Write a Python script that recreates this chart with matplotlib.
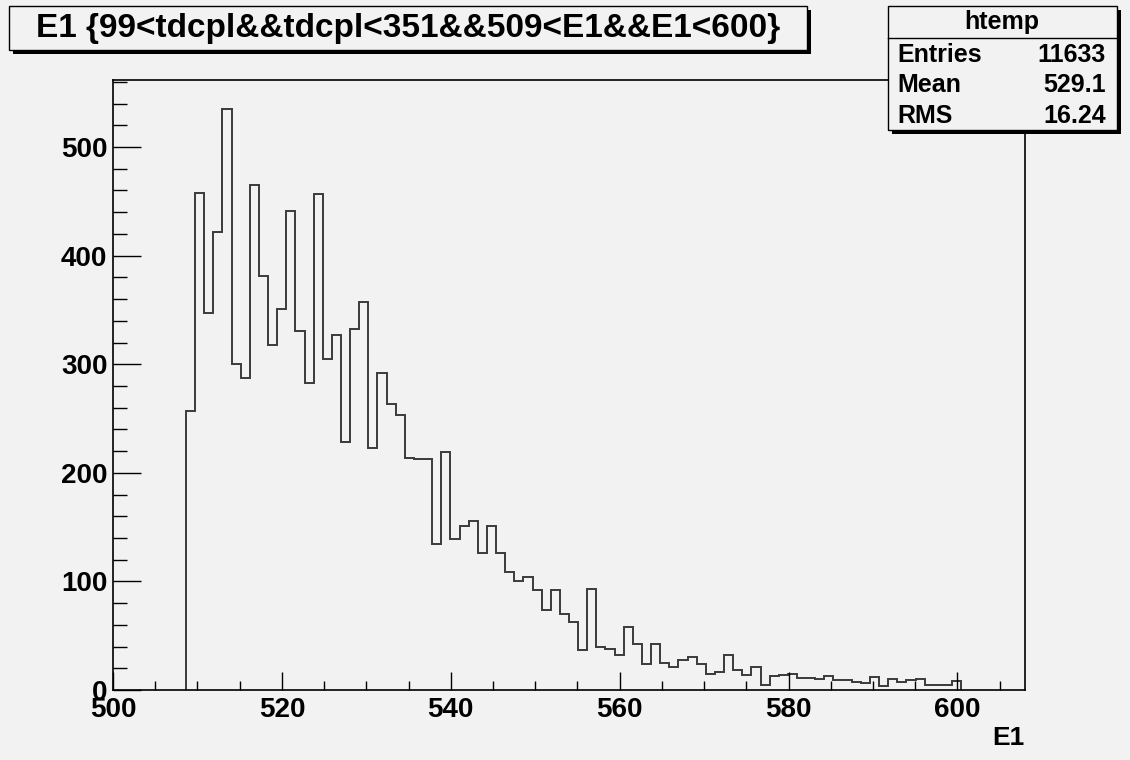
import numpy as np
import matplotlib.pyplot as plt
from matplotlib.patches import Rectangle
from matplotlib.ticker import MultipleLocator

plt.rcParams['font.family'] = ['Liberation Sans', 'DejaVu Sans']
plt.rcParams['font.weight'] = 'bold'

# htemp: 100 bins on [500, 608], only bins 8..92 are filled
xmin, xmax, nbins = 500.0, 608.0, 100
first_bin = 8
counts = [257, 458, 347, 422, 535, 300, 287, 465, 381, 318,
          351, 441, 331, 283, 457, 305, 327, 228, 332, 357,
          223, 292, 263, 253, 214, 213, 213, 134, 219, 139,
          151, 156, 126, 151, 126, 109, 100, 104, 92, 74,
          92, 70, 63, 37, 93, 40, 38, 32, 58, 42,
          24, 42, 25, 21, 28, 30, 24, 15, 17, 32,
          18, 14, 21, 5, 13, 14, 15, 11, 11, 10,
          13, 9, 9, 7, 6, 12, 4, 10, 7, 9,
          10, 5, 5, 5, 8]
title = "E1 {99<tdcpl&&tdcpl<351&&509<E1&&E1<600}"
stat_labels = ["Entries", "Mean", "RMS"]
stat_values = ["11633", "529.1", "16.24"]

W, H = 1130, 760
bg = '#f2f2f2'
fig = plt.figure(figsize=(W / 100, H / 100), dpi=100, facecolor=bg)

def fx(px):
    return px / W

def fy(py):
    return 1 - py / H

ax = fig.add_axes([fx(113), fy(690), fx(1025) - fx(113), fy(80) - fy(690)])
ax.set_facecolor(bg)

edges = np.linspace(xmin, xmax, nbins + 1)
e = edges[first_bin:first_bin + len(counts) + 1]
ax.stairs(counts, e, baseline=0, color='#3a3a3a', lw=1.4)

ax.set_xlim(xmin, xmax)
ax.set_ylim(0, 1.05 * max(counts))

ax.xaxis.set_major_locator(MultipleLocator(20))
ax.xaxis.set_minor_locator(MultipleLocator(5))
ax.yaxis.set_major_locator(MultipleLocator(100))
ax.yaxis.set_minor_locator(MultipleLocator(20))
ax.tick_params(axis='x', which='major', direction='in', length=13, width=1, pad=5, labelsize=20)
ax.tick_params(axis='x', which='minor', direction='in', length=6.5, width=1)
ax.tick_params(axis='y', which='major', direction='in', length=20, width=1, pad=4, labelsize=20)
ax.tick_params(axis='y', which='minor', direction='in', length=10, width=1)
for lab in ax.get_xticklabels() + ax.get_yticklabels():
    lab.set_fontweight('bold')
for s in ax.spines.values():
    s.set_linewidth(1.2)

fig.text(fx(1025), fy(738), "E1", ha='right', va='center', fontsize=19, fontweight='bold')

def box(x0, y0, x1, y1):
    # shadowed pave in pixel coordinates
    fig.patches.append(Rectangle((fx(x0 + 4), fy(y1 + 4)), fx(x1 - x0), fy(y0) - fy(y1),
                                 transform=fig.transFigure, facecolor='black', edgecolor='none', zorder=5))
    fig.patches.append(Rectangle((fx(x0), fy(y1)), fx(x1 - x0), fy(y0) - fy(y1),
                                 transform=fig.transFigure, facecolor=bg, edgecolor='black', lw=1, zorder=6))

# title pave
box(9, 6, 807, 50)
fig.text(fx(408), fy(29), title, ha='center', va='center', fontsize=24, fontweight='bold', zorder=7)

# stats pave
box(888, 6, 1117, 130)
fig.lines.append(plt.Line2D([fx(888), fx(1117)], [fy(38), fy(38)], transform=fig.transFigure,
                            color='black', lw=1, zorder=7))
fig.text(fx(1002), fy(22), "htemp", ha='center', va='center', fontsize=18, fontweight='bold', zorder=7)
for i, (lab, val) in enumerate(zip(stat_labels, stat_values)):
    y = 55 + i * 30.5
    fig.text(fx(897), fy(y), lab, ha='left', va='center', fontsize=18, fontweight='bold', zorder=7)
    fig.text(fx(1106), fy(y), val, ha='right', va='center', fontsize=18, fontweight='bold', zorder=7)

fig.savefig('out.png', dpi=100, facecolor=bg)
